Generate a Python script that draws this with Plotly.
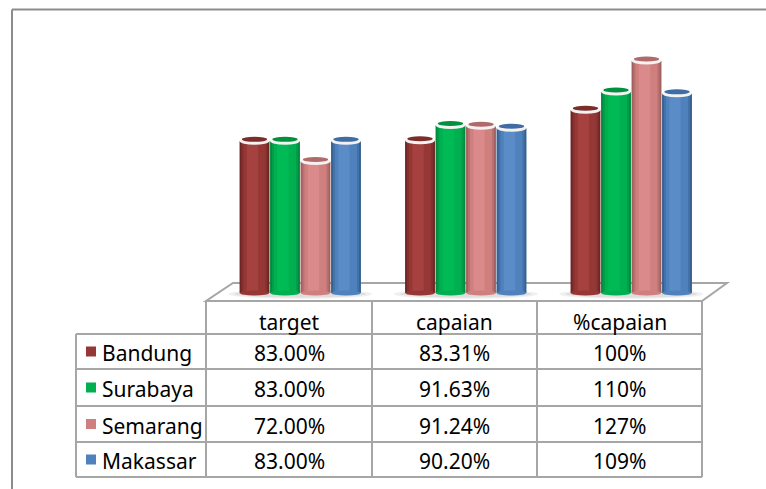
import plotly.graph_objects as go

categories = ["target", "capaian", "%capaian"]
cities = ["Bandung", "Surabaya", "Semarang", "Makassar"]
bandung = [83.00, 83.31, 100]
surabaya = [83.00, 91.63, 110]
semarang = [72.00, 91.24, 127]
makassar = [83.00, 90.20, 109]
series = [bandung, surabaya, semarang, makassar]
labels_bandung = ["83.00%", "83.31%", "100%"]
labels_surabaya = ["83.00%", "91.63%", "110%"]
labels_semarang = ["72.00%", "91.24%", "127%"]
labels_makassar = ["83.00%", "90.20%", "109%"]
table_labels = [labels_bandung, labels_surabaya, labels_semarang, labels_makassar]

W, H = 766, 489
main = ["#953735", "#00B050", "#D07F7F", "#4F81BD"]
mid = ["#83302E", "#009E48", "#B97070", "#4272A8"]
dark = ["#6E2624", "#008A3E", "#A06060", "#36608F"]
light = ["#A5423F", "#00BB55", "#DA8A8A", "#5A8CC8"]
topc = ["#7A2E2C", "#00913F", "#B06A6A", "#3E6CA3"]
GRID = "#A6A6A6"
FRAME = "#8C8C8C"
FONT = "Noto Sans"
FS = 21

# pixel layout
col_x = [206, 372, 537, 702]
leg_x = 76
row_y = [301, 334, 369, 406, 442, 477]
base_px = 293
px_per_unit = 1.827
plot_top = 20
plot_bottom = 305
y_max = (base_px - plot_top) / px_per_unit
y_min = (base_px - plot_bottom) / px_per_unit
x_left, x_right = 217.5, 714
cat_px = (x_right - x_left) / 3
bar_px = 30.5

def px(x): return x / W
def py(y): return 1 - y / H

fig = go.Figure()
strips = [(0.01, 0.99, dark), (0.07, 0.93, mid), (0.14, 0.86, main), (0.25, 0.62, light)]
shapes = []

def line(x0, y0, x1, y1, color=GRID, width=2):
    return dict(type="line", xref="paper", yref="paper", x0=px(x0), x1=px(x1),
                y0=py(y0), y1=py(y1), line=dict(color=color, width=width), layer="below")

# picture frame
shapes += [line(12, 9.5, 766, 9.5, FRAME), line(12, 9.5, 12, 489, FRAME)]
# floor
shapes.append(dict(type="path", xref="paper", yref="paper",
    path=f"M {px(206)} {py(301)} L {px(702)} {py(301)} L {px(727)} {py(283)} L {px(233)} {py(283)} Z",
    fillcolor="#FFFFFF", line=dict(color=GRID, width=2), layer="below"))
# soft shadow below each group of cylinders
for i in range(3):
    for hw, hh, col in [(72, 5, "#F0F0F0"), (66, 3.5, "#DEDEDE")]:
        shapes.append(dict(type="circle", xref="x", yref="y", xsizemode="pixel", ysizemode="pixel",
                           xanchor=i, yanchor=0, x0=-hw, x1=hw, y0=-1 - hh, y1=-1 + hh,
                           fillcolor=col, line=dict(width=0), layer="below"))
# table
for x in col_x:
    shapes.append(line(x, 301, x, 477))
shapes.append(line(leg_x, 334, leg_x, 477))
for y in row_y[1:]:
    shapes.append(line(leg_x, y, 702, y))

# bars drawn as overlaid strips to give the cylinder shading
for s, vals in enumerate(series):
    left = (s - 2) * bar_px / cat_px
    w = bar_px / cat_px
    for a, b, shade in strips:
        fig.add_trace(go.Bar(x=list(range(3)), y=vals, width=w * (b - a), offset=left + w * a,
                             marker=dict(color=shade[s], line=dict(width=0)), name=cities[s],
                             showlegend=False, hoverinfo="skip"))
    for i, v in enumerate(vals):
        cx = i + left + w / 2
        half = bar_px / 2 - 0.6
        # rounded foot
        shapes.append(dict(type="circle", xref="x", yref="y", xsizemode="pixel", ysizemode="pixel",
                           xanchor=cx, yanchor=0, x0=-half, x1=half, y0=-2.5, y1=2.5,
                           fillcolor=main[s], line=dict(width=0), layer="above"))
        # top: thin pale rim and darker disc
        shapes.append(dict(type="circle", xref="x", yref="y", xsizemode="pixel", ysizemode="pixel",
                           xanchor=cx, yanchor=v, x0=-half, x1=half, y0=-3.5, y1=3.5,
                           fillcolor="#F4F1F1", line=dict(width=0), layer="above"))
        shapes.append(dict(type="circle", xref="x", yref="y", xsizemode="pixel", ysizemode="pixel",
                           xanchor=cx, yanchor=v, x0=-half + 2, x1=half - 2, y0=-0.5, y1=4.5,
                           fillcolor=topc[s], line=dict(width=0), layer="above"))

# table text
ann = []
def text(x, y, t, anchor="center"):
    ann.append(dict(x=px(x), y=py(y), xref="paper", yref="paper", text=t, showarrow=False,
                    xanchor=anchor, yanchor="middle", font=dict(family=FONT, size=FS, color="#000000")))
for c, x0, x1 in zip(categories, col_x[:-1], col_x[1:]):
    text((x0 + x1) / 2, 322, c)
for r, row in enumerate(table_labels):
    ymid = (row_y[r + 1] + row_y[r + 2]) / 2
    shapes.append(dict(type="rect", xref="paper", yref="paper", x0=px(86), x1=px(96),
                       y0=py(ymid - 5), y1=py(ymid + 5), fillcolor=main[r], line=dict(width=0)))
    text(100, ymid + 1.5, cities[r], "left")
    for val, x0, x1 in zip(row, col_x[:-1], col_x[1:]):
        text((x0 + x1) / 2, ymid + 1.5, val)

fig.update_layout(
    width=W, height=H, autosize=False, margin=dict(l=0, r=0, t=0, b=0),
    paper_bgcolor="#FFFFFF", plot_bgcolor="rgba(0,0,0,0)", barmode="overlay", showlegend=False,
    shapes=shapes, annotations=ann,
    xaxis=dict(domain=[x_left / W, x_right / W], range=[-0.5, 2.5], visible=False),
    yaxis=dict(domain=[1 - plot_bottom / H, 1 - plot_top / H], range=[y_min, y_max], visible=False),
)
fig.write_html("out.html", config=dict(displayModeBar=False),
               post_script="document.body.style.margin='0';document.documentElement.style.overflow='hidden';")
